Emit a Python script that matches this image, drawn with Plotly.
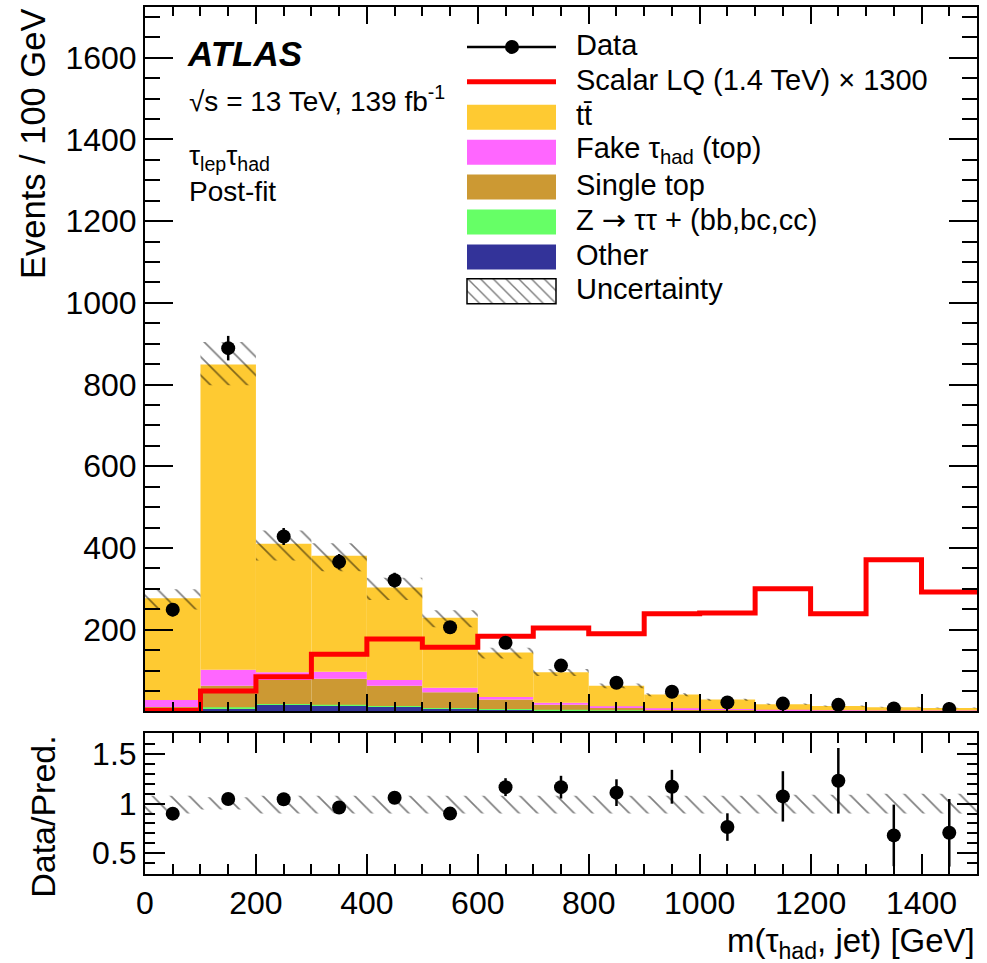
import plotly.graph_objects as go

# ---- binning (GeV) ----
bin_lo = [0, 100, 200, 300, 400, 500, 600, 700, 800, 900, 1000, 1100, 1200, 1300, 1400]
bin_w = 100
centers = [b + bin_w / 2 for b in bin_lo]

# ---- post-fit background components (events / 100 GeV) ----
other = [2, 8, 16, 14, 11, 7, 5, 3, 2, 1, 1, 0.5, 0.5, 0.3, 0.3]
ztautau = [1, 2, 2, 2, 2, 1, 1, 1, 0.5, 0.5, 0.3, 0.2, 0.2, 0.1, 0.1]
single_top = [8, 53, 59, 64, 50, 39, 23, 12, 7, 4, 3, 2, 1.5, 1, 1]
fake_tau = [17, 39, 19, 17, 14, 11, 6, 5, 3, 2, 1.5, 1, 0.8, 0.6, 0.5]
ttbar = [249, 747, 314, 284, 226, 171, 109, 75, 50.5, 33.5, 23, 14, 10, 8.3, 6.6]

# relative systematic band (up / down)
unc_up = [0.08, 0.065, 0.08, 0.08, 0.08, 0.08, 0.08, 0.08, 0.08, 0.08, 0.08, 0.09, 0.09, 0.1, 0.1]
unc_dn = [0.10, 0.06, 0.10, 0.10, 0.10, 0.10, 0.10, 0.10, 0.10, 0.10, 0.10, 0.10, 0.10, 0.10, 0.10]

# ---- data ----
data = [249, 889, 428, 366, 321, 206, 168, 112, 70, 48, 22, 19, 16, 7, 6]
data_err = [16, 30, 21, 19, 18, 14, 13, 11, 8.5, 7, 4, 4.5, 4.3, 3.2, 2.9]

# ---- signal: scalar LQ 1.4 TeV scaled by 1300 ----
signal = [2, 50, 85, 140, 177, 157, 184, 204, 190, 239, 241, 300, 239, 371, 292]

# ---- tick labels ----
main_y_ticks = [200, 400, 600, 800, 1000, 1200, 1400, 1600]
ratio_y_ticks = [0.5, 1, 1.5]
ratio_y_text = ["0.5", "1", "1.5"]
x_ticks = [0, 200, 400, 600, 800, 1000, 1200, 1400]

COL = {
    "ttbar": "#FECA32",
    "fake": "#FF66FF",
    "single": "#CC9933",
    "ztt": "#66FF66",
    "other": "#333399",
}
FONT = "Liberation Sans, Arial, Helvetica, sans-serif"

W, H = 987, 963
ML, MR, MT, MB = 145, 10, 5, 89
PW, PH = W - ML - MR, H - MT - MB


def px(x):
    return (x - ML) / PW


def py(y):
    return (H - MB - y) / PH


fig = go.Figure()

# stacked backgrounds drawn as overlaid bars with explicit bases
stack = [
    ("Other", other, COL["other"]),
    ("Z", ztautau, COL["ztt"]),
    ("Single top", single_top, COL["single"]),
    ("Fake", fake_tau, COL["fake"]),
    ("ttbar", ttbar, COL["ttbar"]),
]
base = [0.0] * len(bin_lo)
for name, vals, col in stack:
    fig.add_trace(go.Bar(
        x=centers, y=vals, base=list(base), width=bin_w,
        marker=dict(color=col, line=dict(width=0)),
        name=name, showlegend=False, xaxis="x", yaxis="y", hoverinfo="skip",
    ))
    base = [b + v for b, v in zip(base, vals)]
total = base

# uncertainty hatch on the main panel
band_lo = [t * (1 - d) for t, d in zip(total, unc_dn)]
band_h = [t * (u + d) for t, u, d in zip(total, unc_up, unc_dn)]
hatch = dict(shape="\\", fgcolor="black", bgcolor="rgba(0,0,0,0)", size=13, solidity=0.13, fillmode="overlay")
fig.add_trace(go.Bar(
    x=centers, y=band_h, base=band_lo, width=bin_w,
    marker=dict(color="rgba(0,0,0,0)", line=dict(width=0), pattern=hatch),
    showlegend=False, xaxis="x", yaxis="y", hoverinfo="skip",
))

# signal histogram as a step line
sig_x = bin_lo + [bin_lo[-1] + bin_w]
sig_y = signal + [signal[-1]]
fig.add_trace(go.Scatter(
    x=sig_x, y=sig_y, mode="lines", line=dict(color="#FF0000", width=5, shape="hv"),
    showlegend=False, xaxis="x", yaxis="y", hoverinfo="skip",
))

# data points
fig.add_trace(go.Scatter(
    x=centers, y=data, mode="markers",
    marker=dict(color="black", size=14, symbol="circle"),
    error_y=dict(type="data", array=data_err, color="black", thickness=2.5, width=0),
    showlegend=False, xaxis="x", yaxis="y",
))

# ---- ratio panel ----
r_lo = [1 - d for d in unc_dn]
r_h = [u + d for u, d in zip(unc_up, unc_dn)]
fig.add_trace(go.Bar(
    x=centers, y=r_h, base=r_lo, width=bin_w,
    marker=dict(color="rgba(0,0,0,0)", line=dict(width=0), pattern=hatch),
    showlegend=False, xaxis="x2", yaxis="y2", hoverinfo="skip",
))
ratio = [d / t for d, t in zip(data, total)]
ratio_err = [e / t for e, t in zip(data_err, total)]
fig.add_trace(go.Scatter(
    x=centers, y=ratio, mode="markers",
    marker=dict(color="black", size=14, symbol="circle"),
    error_y=dict(type="data", array=ratio_err, color="black", thickness=2.5, width=0),
    showlegend=False, xaxis="x2", yaxis="y2",
))

# ---- hand-built legend ----
lx0, lx1 = 467, 556
rows = [45, 80, 115.5, 150.5, 185.5, 220.5, 255.5, 290]
labels = [
    "Data",
    "Scalar LQ (1.4 TeV) \u00d7 1300",
    "tt\u0304",
    "Fake \u03c4<sub>had</sub> (top)",
    "Single top",
    "Z <span style=\"font-family:DejaVu Sans\">\u2192</span> \u03c4\u03c4 + (bb,bc,cc)",
    "Other",
    "Uncertainty",
]
shapes = []
shapes.append(dict(type="line", xref="paper", yref="paper", x0=px(lx0), x1=px(lx1),
                   y0=py(rows[0]), y1=py(rows[0]), line=dict(color="black", width=2.5)))
shapes.append(dict(type="circle", xref="paper", yref="paper",
                   x0=px(512 - 7), x1=px(512 + 7), y0=py(rows[0] + 7), y1=py(rows[0] - 7),
                   fillcolor="black", line=dict(color="black", width=0)))
shapes.append(dict(type="line", xref="paper", yref="paper", x0=px(lx0), x1=px(lx1),
                   y0=py(rows[1]), y1=py(rows[1]), line=dict(color="#FF0000", width=5)))
for yc, col in zip(rows[2:7], [COL["ttbar"], COL["fake"], COL["single"], COL["ztt"], COL["other"]]):
    shapes.append(dict(type="rect", xref="paper", yref="paper", x0=px(lx0), x1=px(lx1),
                       y0=py(yc + 12.5), y1=py(yc - 12.5), fillcolor=col, line=dict(width=0)))
shapes.append(dict(type="rect", xref="paper", yref="paper", x0=px(lx0), x1=px(lx1),
                   y0=py(rows[7] + 12.5), y1=py(rows[7] - 12.5), fillcolor="rgba(0,0,0,0)",
                   line=dict(color="black", width=1.5)))

# hatched legend swatch on a helper axis spanning the paper area
hx = [px(lx0), px(lx1), px(lx1), px(lx0), px(lx0)]
hy = [py(rows[7] + 12.5), py(rows[7] + 12.5), py(rows[7] - 12.5), py(rows[7] - 12.5), py(rows[7] + 12.5)]
fig.add_trace(go.Scatter(
    x=hx, y=hy, mode="lines", fill="toself", line=dict(width=0),
    fillcolor="rgba(0,0,0,0)",
    fillpattern=dict(shape="\\", fgcolor="black", bgcolor="rgba(0,0,0,0)", size=9, solidity=0.16),
    showlegend=False, xaxis="x3", yaxis="y3", hoverinfo="skip",
))

annots = []
for yc, txt in zip(rows, labels):
    annots.append(dict(text=txt, xref="paper", yref="paper", x=px(574), y=py(yc - 2),
                       xanchor="left", yanchor="middle", showarrow=False,
                       font=dict(family=FONT, size=29, color="black")))

# experiment label block
annots.append(dict(text="<b><i>ATLAS</i></b>", xref="paper", yref="paper", x=px(185), y=py(52),
                   xanchor="left", yanchor="middle", showarrow=False,
                   font=dict(family=FONT, size=35, color="black")))
annots.append(dict(text="\u221as = 13 TeV, 139 fb<sup>-1</sup>", xref="paper", yref="paper",
                   x=px(187), y=py(97), xanchor="left", yanchor="middle", showarrow=False,
                   font=dict(family=FONT, size=28, color="black")))
annots.append(dict(text="\u03c4<sub>lep</sub>\u03c4<sub>had</sub>", xref="paper", yref="paper",
                   x=px(187), y=py(156), xanchor="left", yanchor="middle", showarrow=False,
                   font=dict(family=FONT, size=28, color="black")))
annots.append(dict(text="Post-fit", xref="paper", yref="paper",
                   x=px(187), y=py(190), xanchor="left", yanchor="middle", showarrow=False,
                   font=dict(family=FONT, size=28, color="black")))

# axis titles
annots.append(dict(text="Events / 100 GeV", xref="paper", yref="paper", x=px(33), y=py(5),
                   xanchor="center", yanchor="top", textangle=-90, showarrow=False,
                   font=dict(family=FONT, size=34.5, color="black")))
annots.append(dict(text="Data/Pred.", xref="paper", yref="paper", x=px(43), y=py(733),
                   xanchor="center", yanchor="top", textangle=-90, showarrow=False,
                   font=dict(family=FONT, size=34, color="black")))
annots.append(dict(text="m(\u03c4<sub>had</sub>, jet) [GeV]", xref="paper", yref="paper",
                   x=1.0, y=py(943), xanchor="right", yanchor="middle", showarrow=False,
                   font=dict(family=FONT, size=33, color="black")))

axis_common = dict(showline=True, linecolor="black", linewidth=2, mirror="ticks",
                   ticks="inside", tickcolor="black", tickwidth=2, showgrid=False,
                   zeroline=False, tickfont=dict(family=FONT, size=32, color="black"))

fig.update_layout(
    width=W, height=H,
    margin=dict(l=ML, r=MR, t=MT, b=MB),
    paper_bgcolor="white", plot_bgcolor="rgba(0,0,0,0)",
    barmode="overlay", showlegend=False,
    font=dict(family=FONT, color="black"),
    xaxis=dict(domain=[0, 1], range=[0, 1500], anchor="y", tickvals=x_ticks,
               showticklabels=False, ticklen=17,
               minor=dict(dtick=50, ticklen=9, ticks="inside", tickcolor="black", tickwidth=2, showgrid=False),
               **axis_common),
    yaxis=dict(domain=[py(711), 1], range=[0, 1724], anchor="x", tickvals=main_y_ticks,
               ticklen=28,
               minor=dict(dtick=50, ticklen=15, ticks="inside", tickcolor="black", tickwidth=2, showgrid=False),
               **axis_common),
    xaxis2=dict(domain=[0, 1], range=[0, 1500], anchor="y2", tickvals=x_ticks,
                ticklen=20,
                minor=dict(dtick=50, ticklen=10, ticks="inside", tickcolor="black", tickwidth=2, showgrid=False),
                **axis_common),
    yaxis2=dict(domain=[0, py(733)], range=[0.29, 1.71], anchor="x2", tickvals=ratio_y_ticks,
                ticktext=ratio_y_text, ticklen=20,
                minor=dict(dtick=0.1, ticklen=10, ticks="inside", tickcolor="black", tickwidth=2, showgrid=False),
                **axis_common),
    xaxis3=dict(domain=[0, 1], range=[0, 1], anchor="y3", visible=False, fixedrange=True),
    yaxis3=dict(domain=[0, 1], range=[0, 1], anchor="x3", visible=False, fixedrange=True),
    shapes=shapes,
    annotations=annots,
)

fig.write_html("out.html")
